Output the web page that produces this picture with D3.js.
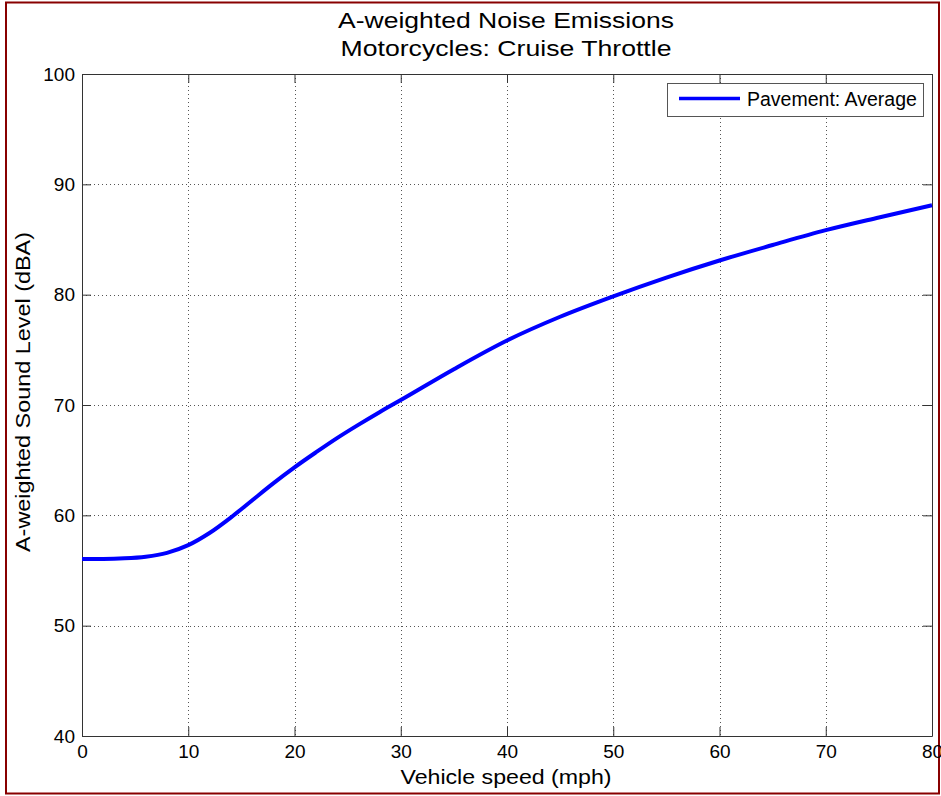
<!DOCTYPE html>
<html>
<head>
<meta charset="utf-8">
<script src="https://cdn.jsdelivr.net/npm/d3@7"></script>
<style>
  body { margin: 0; background: #fff; }
  text { font-family: "Liberation Sans", Arial, sans-serif; fill: #000; }
</style>
</head>
<body>
<div class="chart"></div>
<script>
// Data
var speeds = [0, 2, 4, 6, 8, 10, 12, 14, 16, 18, 20, 22, 24, 26, 28, 30, 35, 40, 45, 50, 55, 60, 65, 70, 75, 80];
var levels = [56.05, 56.05, 56.1, 56.25, 56.6, 57.3, 58.4, 59.8, 61.35, 62.9, 64.35, 65.7, 67.0, 68.2, 69.35, 70.45,
              73.25, 75.85, 78.0, 79.85, 81.55, 83.1, 84.5, 85.85, 87.0, 88.1];
var xTicks = [0, 10, 20, 30, 40, 50, 60, 70, 80];
var yTicks = [40, 50, 60, 70, 80, 90, 100];
var seriesName = "Pavement: Average";

var svgWidth = 941;
var svgHeight = 796;
var margin = { top: 74, right: 9, bottom: 60, left: 82 };
var width = 932 - margin.left;
var height = 736 - margin.top;

var svg = d3.select(".chart")
  .append("svg")
  .attr("width", svgWidth)
  .attr("height", svgHeight);

// dark red frame round the figure
svg.append("rect")
  .attr("x", 6).attr("y", 2.5)
  .attr("width", 933).attr("height", 791)
  .attr("fill", "none")
  .attr("stroke", "#880000")
  .attr("stroke-width", 2);

var chart = svg.append("g")
  .attr("transform", "translate(" + margin.left + "," + margin.top + ")");

var x = d3.scaleLinear().domain([0, 80]).range([0, width]);
var y = d3.scaleLinear().domain([40, 100]).range([height, 0]);

// dotted grid
chart.append("g").selectAll("line")
  .data(xTicks.slice(1, -1))
  .enter().append("line")
  .attr("x1", function(d) { return Math.round(x(d)) + 0.5; })
  .attr("x2", function(d) { return Math.round(x(d)) + 0.5; })
  .attr("y1", 0).attr("y2", height)
  .attr("stroke", "#555").attr("stroke-dasharray", "1,3");

chart.append("g").selectAll("line")
  .data(yTicks.slice(1, -1))
  .enter().append("line")
  .attr("y1", function(d) { return Math.round(y(d)) + 0.5; })
  .attr("y2", function(d) { return Math.round(y(d)) + 0.5; })
  .attr("x1", 0).attr("x2", width)
  .attr("stroke", "#555").attr("stroke-dasharray", "1,3");

// axes, MATLAB style: ticks pointing inward on all four sides
var bottomAxis = d3.axisBottom(x).tickValues(xTicks).tickSizeInner(-9).tickSizeOuter(0).tickPadding(9);
var topAxis = d3.axisTop(x).tickValues(xTicks).tickSizeInner(-9).tickSizeOuter(0).tickFormat("");
var leftAxis = d3.axisLeft(y).tickValues(yTicks).tickSizeInner(-9).tickSizeOuter(0).tickPadding(7);
var rightAxis = d3.axisRight(y).tickValues(yTicks).tickSizeInner(-9).tickSizeOuter(0).tickFormat("");

function styleAxis(g) {
  g.selectAll("path").attr("stroke", "#333");
  g.selectAll("line").attr("stroke", "#333");
  g.selectAll("text").style("font-size", "19px").attr("fill", "#000");
}

chart.append("g").attr("transform", "translate(0," + height + ")").call(bottomAxis).call(styleAxis);
chart.append("g").call(topAxis).call(styleAxis);
chart.append("g").call(leftAxis).call(styleAxis);
chart.append("g").attr("transform", "translate(" + width + ",0)").call(rightAxis).call(styleAxis);

// the curve
var line = d3.line()
  .x(function(d, i) { return x(speeds[i]); })
  .y(function(d) { return y(d); })
  .curve(d3.curveMonotoneX);

chart.append("path")
  .datum(levels)
  .attr("d", line)
  .attr("fill", "none")
  .attr("stroke", "#0000ff")
  .attr("stroke-width", 4)
  .attr("stroke-linejoin", "round");

// legend
var legend = svg.append("g");
legend.append("rect")
  .attr("x", 667.5).attr("y", 83.5)
  .attr("width", 256).attr("height", 33)
  .attr("fill", "#fff").attr("stroke", "#555");
legend.append("line")
  .attr("x1", 679).attr("x2", 740).attr("y1", 98.5).attr("y2", 98.5)
  .attr("stroke", "#0000ff").attr("stroke-width", 3.5);
legend.append("text")
  .attr("x", 747).attr("y", 106)
  .style("font-size", "19.5px")
  .text(seriesName);

// titles
svg.append("text")
  .attr("x", 506).attr("y", 28)
  .attr("text-anchor", "middle")
  .attr("textLength", 336).attr("lengthAdjust", "spacingAndGlyphs")
  .style("font-size", "22px")
  .text("A-weighted Noise Emissions");
svg.append("text")
  .attr("x", 506).attr("y", 56)
  .attr("text-anchor", "middle")
  .attr("textLength", 331).attr("lengthAdjust", "spacingAndGlyphs")
  .style("font-size", "22px")
  .text("Motorcycles: Cruise Throttle");

svg.append("text")
  .attr("x", 506).attr("y", 784)
  .attr("text-anchor", "middle")
  .attr("textLength", 211).attr("lengthAdjust", "spacingAndGlyphs")
  .style("font-size", "21px")
  .text("Vehicle speed (mph)");

svg.append("text")
  .attr("transform", "translate(30,392) rotate(-90)")
  .attr("text-anchor", "middle")
  .attr("textLength", 320).attr("lengthAdjust", "spacingAndGlyphs")
  .style("font-size", "21px")
  .text("A-weighted Sound Level (dBA)");
</script>
</body>
</html>
